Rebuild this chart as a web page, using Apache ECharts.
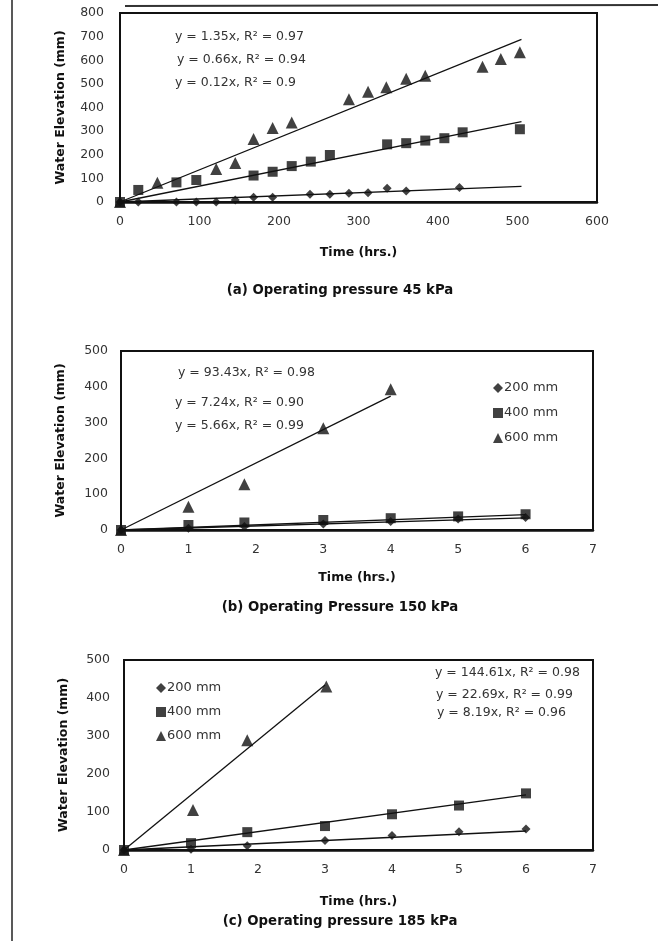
<!DOCTYPE html>
<html><head><meta charset="utf-8">
<script src="https://cdn.jsdelivr.net/npm/echarts@6/dist/echarts.min.js"></script>
<style>html,body{margin:0;padding:0;background:#fff}#c{width:658px;height:941px}</style>
</head><body><div id="c"></div>
<script>
// ---------- Panel (a): operating pressure 45 kPa ----------
const a_t200 = [0,23,71,96,121,145,168,192,239,264,288,312,336,360,427];
const a_y200 = [0,0,0,0,0,8,20,20,33,33,37,39,58,47,61];
const a_t400 = [0,23,71,96,168,192,216,240,264,336,360,384,408,431,503];
const a_y400 = [0,51,83,93,112,128,152,171,199,244,249,260,270,295,308];
const a_t600 = [0,47,121,145,168,192,216,288,312,335,360,384,456,479,503];
const a_y600 = [0,82,140,165,267,313,336,435,467,486,522,534,573,605,634];
const a_fit200 = [[0,0],[505,66]];
const a_fit400 = [[0,0],[505,340]];
const a_fit600 = [[0,0],[505,688]];
const a_eq = ['y = 1.35x, R² = 0.97','y = 0.66x, R² = 0.94','y = 0.12x, R² = 0.9'];

// ---------- Panel (b): operating pressure 150 kPa ----------
const b_t = [0,1,1.83,3,4,5,6];
const b_y200 = [0,5,10,17,24,31,35];
const b_y400 = [0,14,21,28,33,38,44];
const b_t600 = [0,1,1.83,3,4];
const b_y600 = [0,65,128,284,393];
const b_fit200 = [[0,0],[6,34]];
const b_fit400 = [[0,0],[6,43]];
const b_fit600 = [[0,0],[4,374]];
const b_eq = ['y = 93.43x, R² = 0.98','y = 7.24x, R² = 0.90','y = 5.66x, R² = 0.99'];

// ---------- Panel (c): operating pressure 185 kPa ----------
const c_t = [0,1,1.84,3,4,5,6];
const c_y200 = [0,2,11,25,38,48,55];
const c_y400 = [0,18,47,63,94,117,149];
const c_t600 = [0,1.03,1.84,3.02];
const c_y600 = [0,105,289,430];
const c_fit200 = [[0,0],[6,50]];
const c_fit400 = [[0,0],[6,145]];
const c_fit600 = [[0,0],[3,434]];
const c_eq = ['y = 144.61x, R² = 0.98','y = 22.69x, R² = 0.99','y = 8.19x, R² = 0.96'];

const seriesNames = ['200 mm','400 mm','600 mm'];
const captions = ['(a) Operating pressure 45 kPa','(b) Operating Pressure 150 kPa','(c) Operating pressure 185 kPa'];
const xTitle = 'Time (hrs.)';
const yTitle = 'Water Elevation (mm)';

const FONT = '"DejaVu Sans", Verdana, sans-serif';
const INK = '#111';
const zip = (xs, ys) => xs.map((x, i) => [x, ys[i]]);

const grids = [
  {left:120, top:13, width:477, height:189},
  {left:121, top:351, width:472, height:179},
  {left:124, top:660, width:469, height:190}
];
const xMax = [600, 7, 7], xInt = [100, 1, 1];
const yMax = [800, 500, 500];
const yGap = [53, 54, 54];
const xGap = [44, 41, 45];
const yLabMargin = [16, 13, 14];

const xAxes = grids.map((g, i) => ({
  gridIndex: i, type: 'value', min: 0, max: xMax[i], interval: xInt[i],
  name: xTitle, nameLocation: 'middle', nameGap: xGap[i],
  nameTextStyle: {fontFamily: FONT, fontWeight: 'bold', fontSize: 12.5, color: INK},
  axisLine: {show: true, lineStyle: {color: INK, width: 2.5}},
  axisTick: {show: false},
  axisLabel: {fontFamily: FONT, fontSize: 12.5, color: '#333', margin: 13},
  splitLine: {show: false}
}));
const yAxes = grids.map((g, i) => ({
  gridIndex: i, type: 'value', min: 0, max: yMax[i], interval: 100,
  name: yTitle, nameLocation: 'middle', nameGap: yGap[i], nameRotate: 90,
  nameTextStyle: {fontFamily: FONT, fontWeight: 'bold', fontSize: 12.5, color: INK},
  axisLine: {show: true, lineStyle: {color: INK, width: 2}},
  axisTick: {show: false},
  axisLabel: {fontFamily: FONT, fontSize: 12.5, color: '#333', margin: yLabMargin[i]},
  splitLine: {show: false}
}));

const sym = {'200 mm': 'diamond', '400 mm': 'rect', '600 mm': 'triangle'};
const symSize = {'200 mm': 9, '400 mm': 10, '600 mm': 12};

function pts(name, idx, data) {
  return {name, type: 'scatter', xAxisIndex: idx, yAxisIndex: idx, data,
    symbol: sym[name], symbolSize: symSize[name], itemStyle: {color: INK}, z: 5};
}
function fit(idx, data, k) {
  return {name: 'fit' + idx + k, type: 'line', xAxisIndex: idx, yAxisIndex: idx, data,
    symbol: 'none', lineStyle: {color: INK, width: 1.3}, z: 3, silent: true};
}

const series = [
  pts('200 mm', 0, zip(a_t200, a_y200)), pts('400 mm', 0, zip(a_t400, a_y400)), pts('600 mm', 0, zip(a_t600, a_y600)),
  fit(0, a_fit200, 1), fit(0, a_fit400, 2), fit(0, a_fit600, 3),
  pts('200 mm', 1, zip(b_t, b_y200)), pts('400 mm', 1, zip(b_t, b_y400)), pts('600 mm', 1, zip(b_t600, b_y600)),
  fit(1, b_fit200, 1), fit(1, b_fit400, 2), fit(1, b_fit600, 3),
  pts('200 mm', 2, zip(c_t, c_y200)), pts('400 mm', 2, zip(c_t, c_y400)), pts('600 mm', 2, zip(c_t600, c_y600)),
  fit(2, c_fit200, 1), fit(2, c_fit400, 2), fit(2, c_fit600, 3)
];

function legendAt(left, top, gap) {
  return {orient: 'vertical', left, top, itemGap: gap, itemWidth: 10, itemHeight: 10,
    selectedMode: false,
    textStyle: {fontFamily: FONT, fontSize: 13, lineHeight: 14, color: '#333', padding: [0, 0, 0, -4]},
    data: seriesNames.map(n => ({name: n, icon: sym[n], itemStyle: {color: INK}}))};
}

function txt(x, y, s) {
  return {type: 'text', x, y, style: {text: s, font: '12.5px ' + FONT, fill: '#333', textVerticalAlign: 'middle'}};
}
function cap(y, s) {
  return {type: 'text', x: 340, y, style: {text: s, font: 'bold 13.3px ' + FONT, fill: INK, textAlign: 'center', textVerticalAlign: 'middle'}};
}

const graphic = [
  // scan page edges
  {type: 'line', shape: {x1: 12, y1: 0, x2: 12, y2: 941}, style: {stroke: '#222', lineWidth: 1.5}},
  {type: 'line', shape: {x1: 125, y1: 6, x2: 658, y2: 5}, style: {stroke: '#333', lineWidth: 2}},
  // equations
  txt(175, 37, a_eq[0]), txt(177, 60, a_eq[1]), txt(175, 83, a_eq[2]),
  txt(178, 373, b_eq[0]), txt(175, 403, b_eq[1]), txt(175, 426, b_eq[2]),
  txt(435, 673, c_eq[0]), txt(436, 695, c_eq[1]), txt(437, 713, c_eq[2]),
  // captions
  cap(291, captions[0]), cap(608, captions[1]), cap(922, captions[2])
];

const chart = echarts.init(document.getElementById('c'), null, {renderer: 'canvas'});
chart.setOption({
  backgroundColor: '#fff',
  animation: false,
  grid: grids.map(g => Object.assign({show: true, borderColor: INK, borderWidth: 2, backgroundColor: 'transparent'}, g)),
  xAxis: xAxes,
  yAxis: yAxes,
  legend: [legendAt(488, 376, 11), legendAt(151, 676, 10)],
  series,
  graphic
});
</script></body></html>
